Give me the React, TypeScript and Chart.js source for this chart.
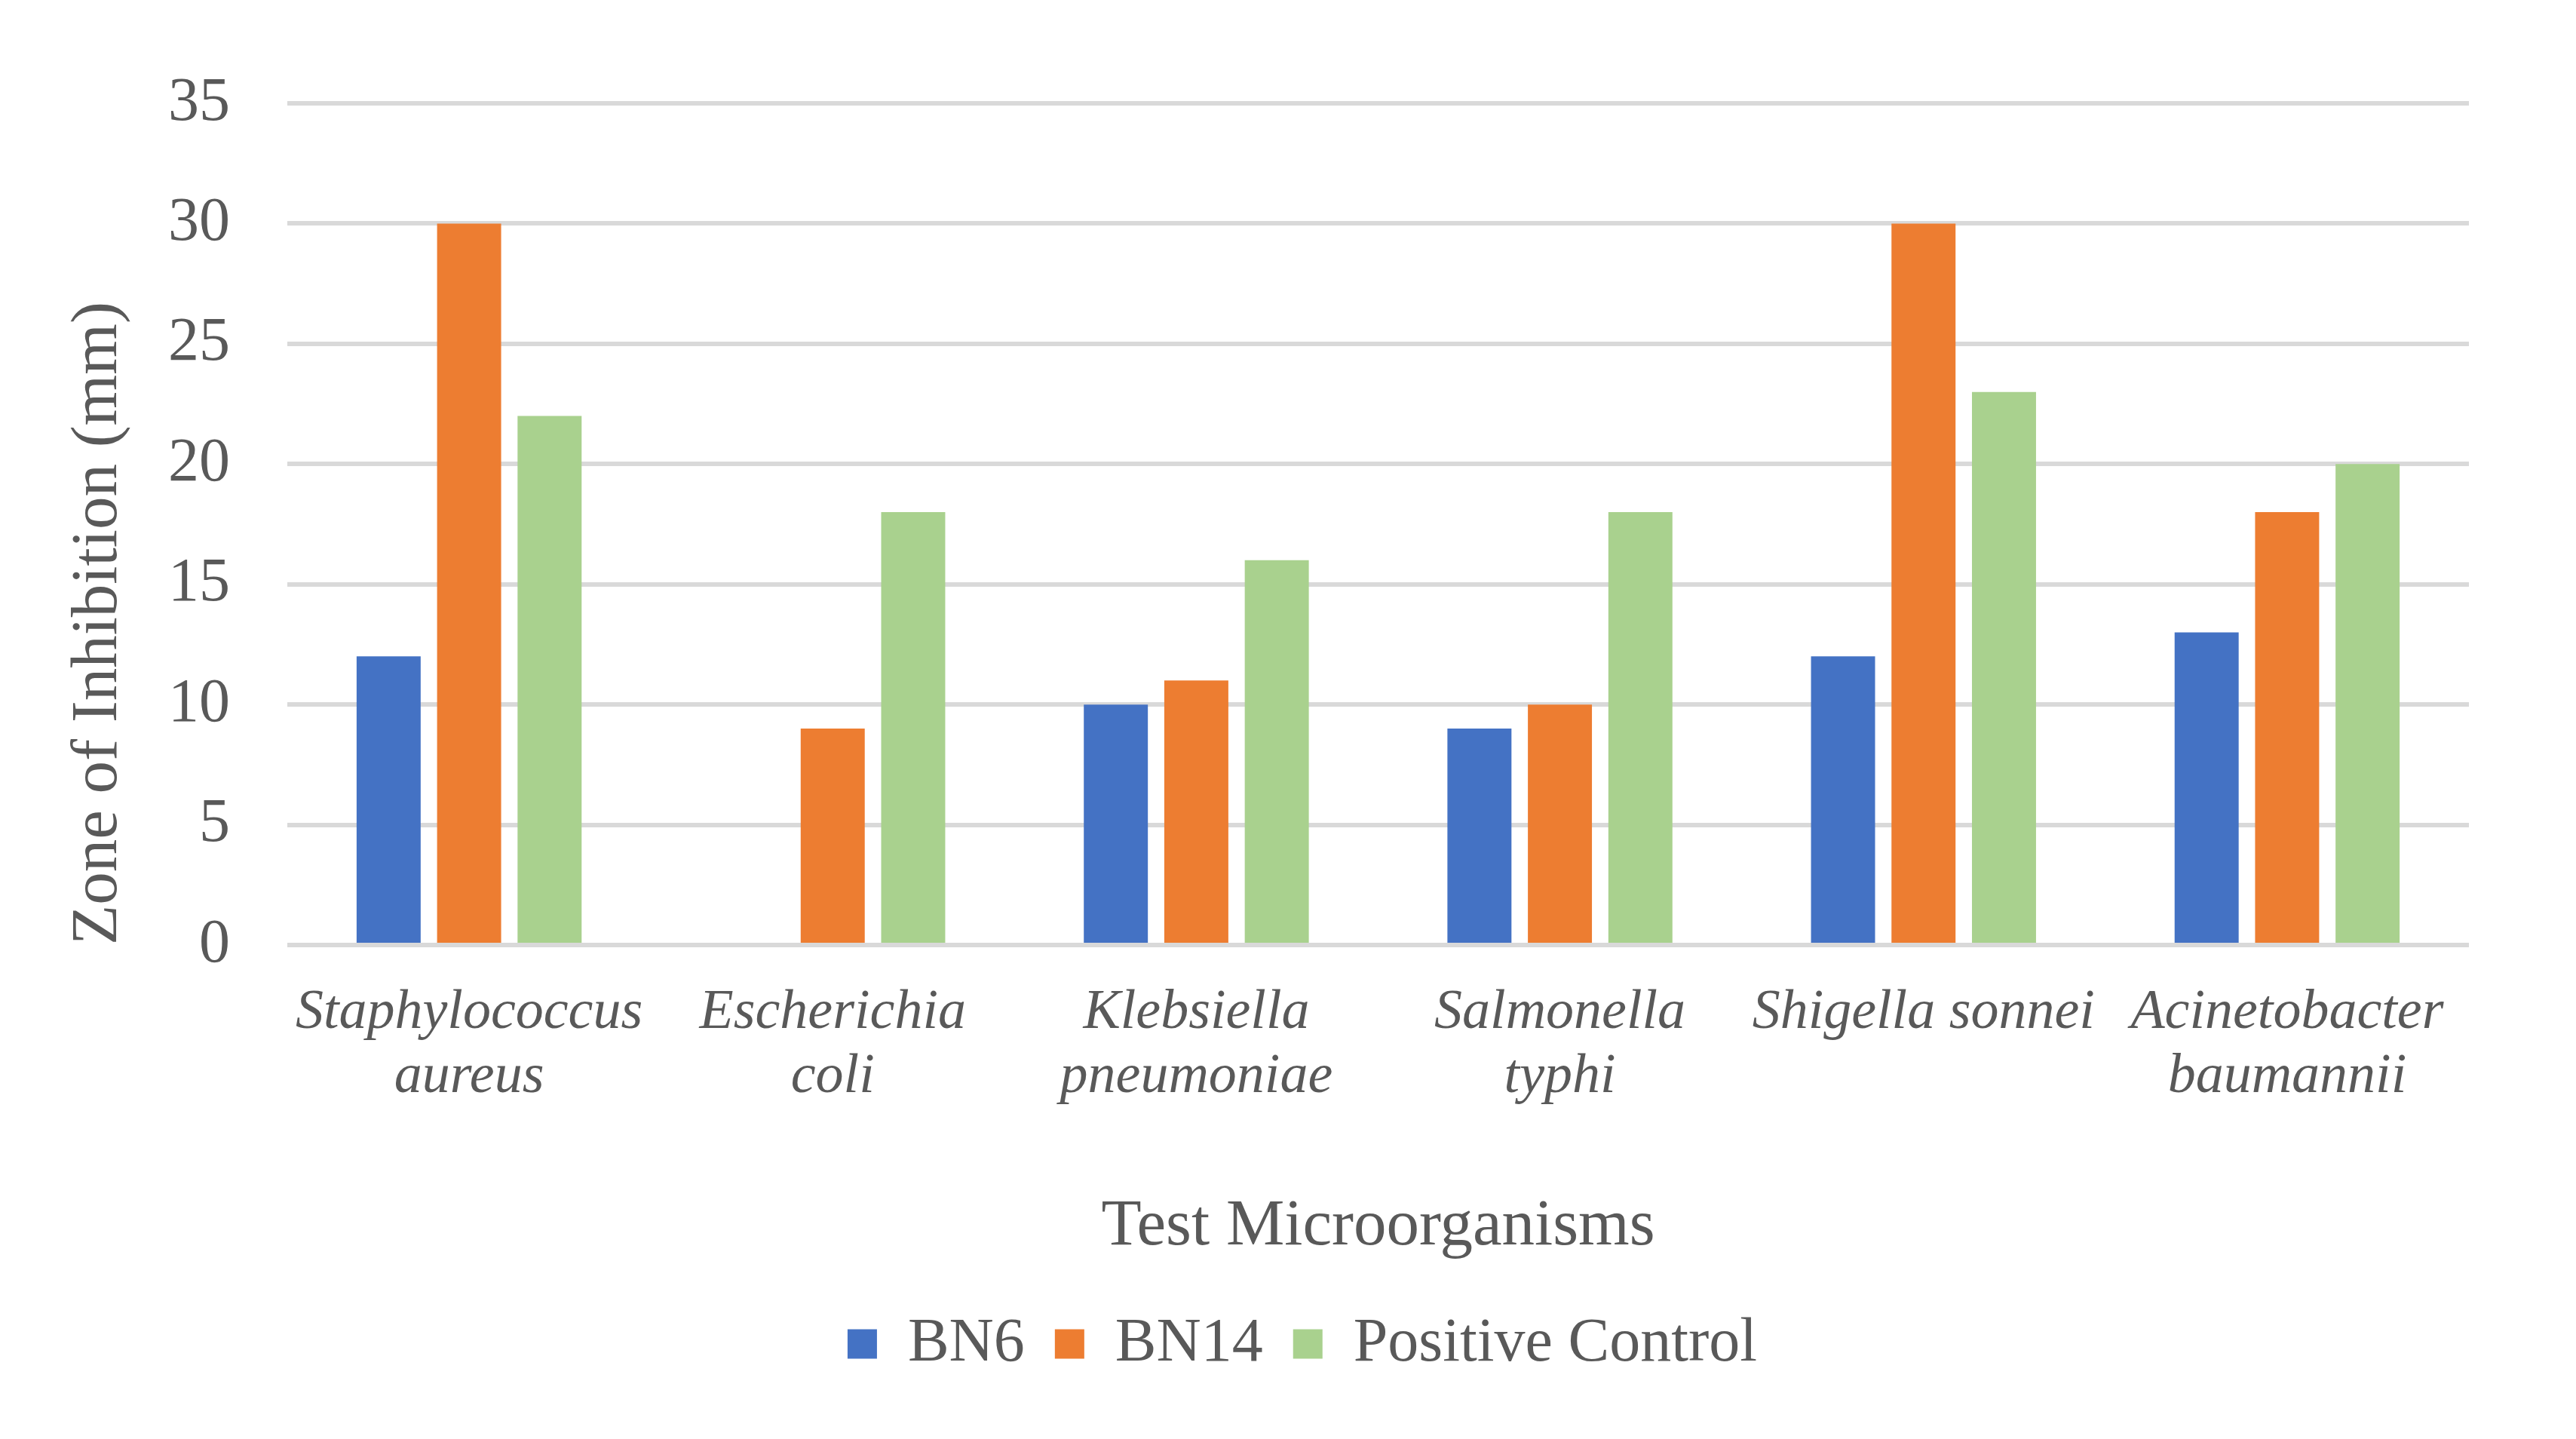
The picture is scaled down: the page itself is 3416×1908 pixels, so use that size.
import React, { useEffect, useRef } from "react";
import { Chart, registerables } from "chart.js";

Chart.register(...registerables);

const categories: string[][] = [
  ["Staphylococcus", "aureus"],
  ["Escherichia", "coli"],
  ["Klebsiella", "pneumoniae"],
  ["Salmonella", "typhi"],
  ["Shigella sonnei"],
  ["Acinetobacter", "baumannii"],
];
const seriesNames = ["BN6", "BN14", "Positive Control"];
const bn6 = [12, 0, 10, 9, 12, 13];
const bn14 = [30, 9, 11, 10, 30, 18];
const positiveControl = [22, 18, 16, 18, 23, 20];
const seriesColors = ["#4472C4", "#ED7D31", "#A9D18E"];
const yMin = 0;
const yMax = 35;
const yStep = 5;
const yTitle = "Zone of Inhibition (mm)";
const xTitle = "Test Microorganisms";

const FONT = "'Liberation Serif', 'Times New Roman', serif";
const TEXT = "#595959";

export default function App() {
  const ref = useRef<HTMLCanvasElement | null>(null);
  useEffect(() => {
    document.body.style.margin = "0";
    const canvas = ref.current;
    if (!canvas) return;
    const legendShift = {
      id: "legendShift",
      afterLayout(chart: any) {
        const l = chart.legend;
        if (l) {
          l.left += 90;
          l.right += 90;
        }
      },
    };
    const seriesData = [bn6, bn14, positiveControl];
    const chart = new Chart(canvas, {
      type: "bar",
      data: {
        labels: categories as any,
        datasets: seriesNames.map((name, i) => ({
          label: name,
          data: seriesData[i],
          backgroundColor: seriesColors[i],
          borderWidth: 0,
          categoryPercentage: 0.664,
          barPercentage: 0.796,
        })),
      },
      options: {
        animation: false,
        responsive: false,
        devicePixelRatio: 1,
        layout: { padding: { left: 0, right: 142, top: 137, bottom: 75 } },
        plugins: {
          tooltip: { enabled: false },
          legend: {
            position: "bottom",
            labels: {
              boxWidth: 39,
              boxHeight: 39,
              padding: 40,
              color: TEXT,
              font: { family: FONT, size: 82 },
            },
          },
        },
        scales: {
          x: {
            grid: { display: false, drawTicks: false },
            border: { display: false },
            ticks: {
              color: TEXT,
              font: { family: FONT, size: 74, style: "italic", lineHeight: 1.15 },
              padding: 48,
              maxRotation: 0,
              minRotation: 0,
              autoSkip: false,
            },
            title: {
              display: true,
              text: xTitle,
              color: TEXT,
              font: { family: FONT, size: 87 },
              padding: { top: 0, bottom: 22 },
            },
            afterFit: (s: any) => {
              s.height = 448;
            },
          },
          y: {
            min: yMin,
            max: yMax,
            grid: { color: "#D9D9D9", lineWidth: 6, drawTicks: false },
            border: { display: false },
            ticks: {
              stepSize: yStep,
              color: TEXT,
              font: { family: FONT, size: 82 },
              padding: 76,
            },
            title: {
              display: true,
              text: yTitle,
              align: "start",
              color: TEXT,
              font: { family: FONT, size: 87 },
              padding: { top: 79, bottom: 0 },
            },
            afterFit: (s: any) => {
              s.width = 381;
            },
          },
        },
      },
      plugins: [legendShift],
    });
    return () => chart.destroy();
  }, []);
  return (
    <div style={{ position: "fixed", left: 0, top: 0, width: 3416, height: 1908, background: "#fff" }}>
      <canvas ref={ref} width={3416} height={1908} style={{ width: 3416, height: 1908, display: "block" }} />
    </div>
  );
}
